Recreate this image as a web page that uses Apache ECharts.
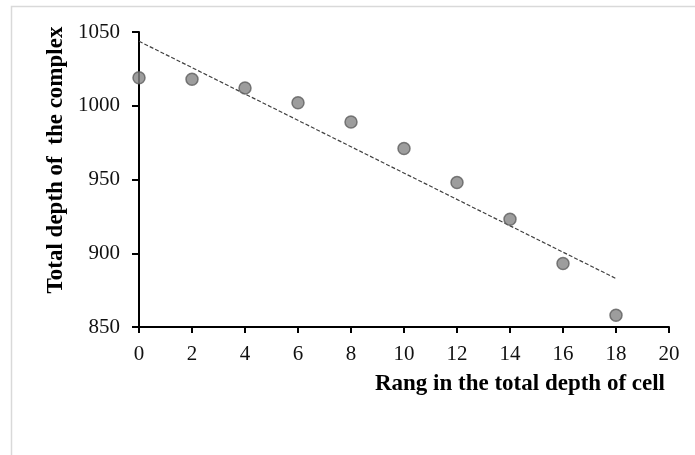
<!DOCTYPE html>
<html>
<head>
<meta charset="utf-8">
<script src="https://cdn.jsdelivr.net/npm/echarts@6/dist/echarts.min.js"></script>
<style>
  html, body { margin: 0; padding: 0; background: #fff; }
  #chart { width: 695px; height: 455px; }
</style>
</head>
<body>
<div id="chart"></div>
<script>
// Rank positions and total depth measured at each
const ranks = [0, 2, 4, 6, 8, 10, 12, 14, 16, 18];
const depths = [1019, 1018, 1012, 1002, 989, 971, 948, 923, 893, 858];

const xTitle = 'Rang in the total depth of cell';
const yTitle = 'Total depth of  the complex';

// Least-squares linear trend through the measured points
function linearFit(xs, ys) {
  const n = xs.length;
  const mx = xs.reduce((a, b) => a + b, 0) / n;
  const my = ys.reduce((a, b) => a + b, 0) / n;
  let sxy = 0, sxx = 0;
  for (let i = 0; i < n; i++) {
    sxy += (xs[i] - mx) * (ys[i] - my);
    sxx += (xs[i] - mx) * (xs[i] - mx);
  }
  const slope = sxy / sxx;
  return { slope, intercept: my - slope * mx };
}
const fit = linearFit(ranks, depths);
const xFirst = ranks[0], xLast = ranks[ranks.length - 1];
const trend = [
  [xFirst, fit.intercept + fit.slope * xFirst],
  [xLast, fit.intercept + fit.slope * xLast]
];

const font = 'Liberation Serif, Times New Roman, serif';
const chart = echarts.init(document.getElementById('chart'), null, { renderer: 'canvas' });

chart.setOption({
  animation: false,
  backgroundColor: '#ffffff',
  grid: { left: 139, right: 26, top: 32, bottom: 128, containLabel: false },
  graphic: [
    {
      type: 'rect',
      shape: { x: 11.5, y: 6.5, width: 900, height: 900 },
      style: { fill: 'none', stroke: '#d9d9d9', lineWidth: 1.5 },
      silent: true,
      z: -1
    },
    {
      type: 'text',
      x: 56,
      y: 160,
      rotation: Math.PI / 2,
      style: {
        text: yTitle,
        font: 'bold 23px ' + font,
        fill: '#000',
        align: 'center',
        verticalAlign: 'middle'
      }
    }
  ],
  xAxis: {
    type: 'value',
    min: 0,
    max: 20,
    interval: 2,
    name: xTitle,
    nameLocation: 'end',
    nameGap: -4,
    nameTextStyle: {
      fontFamily: font,
      fontWeight: 'bold',
      fontSize: 23,
      color: '#000',
      align: 'right',
      verticalAlign: 'top',
      padding: [46, 0, 0, 0]
    },
    axisLine: { show: true, onZero: false, lineStyle: { color: '#000', width: 2 } },
    axisTick: { show: true, length: 6, lineStyle: { color: '#000', width: 2 } },
    axisLabel: { fontFamily: font, fontSize: 21, color: '#111', margin: 17 },
    splitLine: { show: false }
  },
  yAxis: {
    type: 'value',
    min: 850,
    max: 1050,
    interval: 50,
    axisLine: { show: true, onZero: false, lineStyle: { color: '#000', width: 2 } },
    axisTick: { show: true, length: 7, lineStyle: { color: '#000', width: 2 } },
    axisLabel: {
      fontFamily: font,
      fontSize: 21,
      color: '#111',
      margin: 19,
      formatter: (v) => String(v)
    },
    splitLine: { show: false }
  },
  series: [
    {
      type: 'line',
      data: trend,
      symbol: 'none',
      lineStyle: { color: '#404040', width: 1.2, type: [4, 2] },
      z: 2
    },
    {
      type: 'scatter',
      data: ranks.map((r, i) => [r, depths[i]]),
      symbol: 'circle',
      symbolSize: 12,
      itemStyle: { color: '#858585', borderColor: '#5e5e5e', borderWidth: 1.5 },
      z: 3
    }
  ]
});
</script>
</body>
</html>
